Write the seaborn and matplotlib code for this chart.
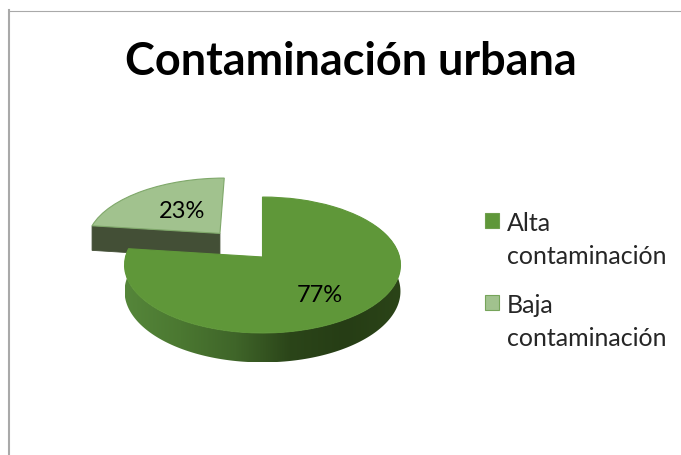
"""Contaminación urbana: exploded 3D-look pie, drawn with a small perspective transform."""
import numpy as np
import matplotlib
matplotlib.use("Agg")
import matplotlib.pyplot as plt
from matplotlib.legend_handler import HandlerPatch
from matplotlib.patches import Patch, Polygon, Rectangle
from matplotlib.transforms import Transform
import seaborn as sns

title = "Contaminación urbana"
categories = ["Alta\ncontaminación", "Baja\ncontaminación"]
values = [77, 23]

top_colors = ["#5f9739", "#a1c28e"]
edge_colors = ["#5f9739", "#7fa86a"]
legend_edges = ["#6f9f4c", "#76a45a"]
side_stops = ["#55863a", "#4b7831", "#3f6529", "#2b4519", "#263d15", "#2b4418"]
cut_color = "#434f36"
frame_color = "#a9a9a9"

sns.set_theme(style="white")
plt.rcParams["font.family"] = ["Lato", "DejaVu Sans"]

# picture geometry of the pie, in pixels
CX, CY = 262.5, 257.0
A, B, K = 137.0, 67.0, 0.1176
DEPTH = 26.0
EXPLODE = 0.49
PCT_RADIUS = [0.63, 0.5]
PCT_NUDGE = [(-0.028, -0.07), (0.015, 0.0)]


class PieProjection(Transform):
    """Lays the unit pie down on its back, the near edge a bit bigger."""
    input_dims = 2
    output_dims = 2

    def transform_non_affine(self, values):
        xy = np.asarray(values, dtype=float)
        w = 1 + K * xy[:, 1]
        return np.column_stack([CX + A * xy[:, 0] / w, CY - B * xy[:, 1] / w])


def side_outline(proj, x, y):
    top = proj.transform_non_affine(np.column_stack([x, y]))
    w = 1 + K * np.asarray(y)
    low = top + np.column_stack([np.zeros(len(x)), DEPTH / w])
    return np.vstack([top, low[::-1]])


def swatch(legend, orig_handle, xdescent, ydescent, width, height, fontsize):
    # sits next to the first line of the two-line label
    return Rectangle((-xdescent, -ydescent + 0.81 * fontsize), width, height)


fig = plt.figure(figsize=(6.81, 4.55), dpi=100)
ax = fig.add_axes([9 / 681, 0, 672 / 681, 444.5 / 455])
proj = PieProjection()

wedges, _, pcts = ax.pie(values, explode=[0, EXPLODE], colors=top_colors, startangle=90,
                         counterclock=False, autopct="%d%%", pctdistance=0.6,
                         textprops={"fontsize": 17, "color": "black"})

# top faces and percentage labels go through the perspective
for wedge, text, r, nudge, edge, z in zip(wedges, pcts, PCT_RADIUS, PCT_NUDGE, edge_colors, [4, 2]):
    wedge.set_transform(proj + ax.transData)
    wedge.set_edgecolor(edge)
    wedge.set_linewidth(0.8)
    wedge.set_zorder(z)
    mid = np.deg2rad((wedge.theta1 + wedge.theta2) / 2)
    ox, oy = wedge.center
    text.set_position((ox + r * np.cos(mid) + nudge[0], oy + r * np.sin(mid) + nudge[1]))
    text.set_transform(proj + ax.transData)
    text.set_zorder(6)

# rim of the big slice, shaded from left to right
phi = np.deg2rad(np.linspace(60, 360 * values[0] / sum(values), 160))
rim = side_outline(proj, np.sin(phi), np.cos(phi))
pal = np.array(sns.blend_palette(side_stops, 256))[None, :, :3]
im = ax.imshow(pal, extent=(rim[:, 0].min(), rim[:, 0].max(), rim[:, 1].max(), rim[:, 1].min()),
               aspect="auto", zorder=3, interpolation="bilinear")
im.set_clip_path(Polygon(rim, closed=True, transform=ax.transData))

# cut face of the small slice
ox, oy = wedges[1].center
end = np.deg2rad(360 * values[0] / sum(values))
cut = side_outline(proj, [ox, ox + np.sin(end)], [oy, oy + np.cos(end)])
ax.fill(cut[:, 0], cut[:, 1], color=cut_color, lw=0.6, zorder=1)

ax.set_aspect("auto")
ax.set_xlim(9, 681)
ax.set_ylim(455, 10.5)
ax.set_frame_on(True)
for name, spine in ax.spines.items():
    spine.set_visible(name in ("top", "left"))
    spine.set_color(frame_color)
ax.spines["left"].set_linewidth(1.5)
ax.spines["top"].set_linewidth(0.8)

ax.text(351, 62, title, fontsize=32.4, fontweight="bold", color="black", ha="center", va="center")

handles = [Patch(facecolor=c, edgecolor=e, lw=0.8) for c, e in zip(top_colors, legend_edges)]
leg = ax.legend(handles, categories, loc="center left", bbox_to_anchor=(476 / 672, 0.392),
                frameon=False, fontsize=18, handlelength=0.56, handleheight=0.56,
                handletextpad=0.3, labelspacing=1.02, borderpad=0, borderaxespad=0,
                handler_map={Patch: HandlerPatch(patch_func=swatch)})
for t in leg.get_texts():
    t.set_linespacing(1.55)

fig.savefig("out.png", dpi=100)
